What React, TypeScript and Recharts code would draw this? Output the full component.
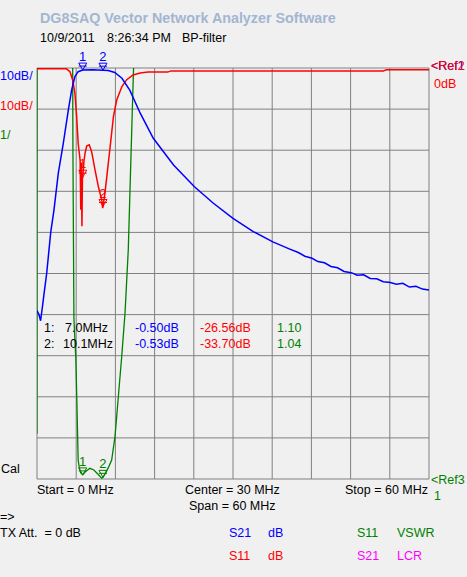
import React from 'react';
import { LineChart, Line, XAxis, YAxis, CartesianGrid, ReferenceDot } from 'recharts';

// grid ticks: 0..60 MHz in 6 MHz steps, 0..-100 dB in 10 dB steps
const freqTicks = [0, 6, 12, 18, 24, 30, 36, 42, 48, 54, 60];
const dbTicks = [0, -10, -20, -30, -40, -50, -60, -70, -80, -90, -100];

// S21 transmission (blue)
const s21Freq = [0, 0.3, 0.55, 0.8, 1.07, 1.48, 2.1, 2.6, 3.26, 4.03, 4.8, 5.3, 5.8, 6.3, 7.0, 8.5, 10.1, 10.9, 11.9, 13.0, 14.2, 15.8, 17.8, 20.9, 24.1, 27.0, 30.0, 33.1, 36.1, 38.6, 40, 41, 42.1, 43, 44, 45, 46, 47, 48.1, 49, 50, 51, 52, 53, 54.1, 55, 56, 57, 58, 59, 60];
const s21Db = [-59, -60, -61.5, -58.5, -55, -50, -40, -34.5, -25.6, -18.3, -10.2, -5.4, -2.1, -0.9, -0.5, -0.45, -0.53, -0.6, -1.1, -2.5, -5.4, -11, -17.1, -23.6, -28.9, -32.9, -36.6, -39.8, -42.3, -44, -44.9, -45.8, -46.3, -47.1, -47.4, -48.3, -48.6, -49.5, -49.8, -50.4, -50.3, -51.2, -51.3, -52.0, -52.2, -52.6, -52.4, -53.3, -53.1, -53.8, -54];

// S11 reflection (red)
const s11Freq = [0, 4.5, 5.05, 5.46, 5.8, 6.07, 6.3, 6.6, 6.7, 6.78, 6.88, 6.95, 7.0, 7.2, 7.35, 7.6, 8.0, 8.37, 8.88, 9.4, 9.9, 10.05, 10.1, 10.4, 10.8, 11.2, 11.7, 12.2, 13.0, 13.7, 14.7, 15.8, 17, 20, 20.5, 53, 53.5, 60];
const s11Db = [-0.2, -0.2, -0.9, -2.9, -6.1, -11.8, -18.3, -22.4, -34.5, -23, -38.5, -27, -26.56, -22.5, -20.8, -19, -18.7, -20.4, -24.8, -28.9, -32, -34.1, -33.7, -30.5, -24.8, -19.1, -11.8, -7.8, -4.5, -2.9, -1.7, -1.2, -1.0, -1.0, -0.7, -0.7, -0.45, -0.45];

// S11 VSWR (green)
const vswrFreq = [0, 0.05, 5.4, 5.45, 5.5, 5.65, 5.95, 6.1, 6.3, 6.5, 6.7, 7.0, 7.5, 8.1, 8.7, 9.3, 9.9, 10.1, 10.4, 10.9, 11.43, 11.94, 12.45, 12.96, 13.47, 13.97, 14.23, 14.74, 15.0, 15.5, 60];
const vswrVal = [2.1, 30, 30, 11.5, 9.0, 4.9, 3.9, 2.9, 1.46, 1.25, 1.15, 1.10, 1.19, 1.26, 1.22, 1.12, 1.02, 1.04, 1.12, 1.27, 1.46, 2.03, 3.0, 3.97, 5.03, 6.57, 8.0, 10.8, 12, 30, 30];

// markers
const markerFreq = [7.0, 10.1];
const markerS21 = [-0.5, -0.53];
const markerS11 = [-26.56, -33.7];
const markerVswr = [1.1, 1.04];

const s21Data = s21Freq.map((f, i) => ({ f, v: s21Db[i] }));
const s11Data = s11Freq.map((f, i) => ({ f, v: s11Db[i] }));
const vswrData = vswrFreq.map((f, i) => ({ f, v: vswrVal[i] }));

const FONT = '"Liberation Sans", Arial, sans-serif';

const T: React.FC<{ x: number; y: number; c?: string; s?: number; b?: boolean; children: React.ReactNode }> = ({ x, y, c = '#000', s = 12.5, b, children }) => (
  <div
    style={{
      position: 'absolute', left: x, top: y, transform: 'translateY(-50%)',
      color: c, fontSize: s, fontWeight: b ? 'bold' : 'normal', lineHeight: 1, whiteSpace: 'pre', fontFamily: FONT,
    }}
  >
    {children}
  </div>
);

const markerShape = (color: string, label: string) => (props: any) => {
  const { cx, cy } = props;
  return (
    <g>
      <path d={`M${cx - 4},${cy - 7} L${cx + 4},${cy - 7} L${cx},${cy} Z`} fill="none" stroke={color} strokeWidth={1} />
      <line x1={cx - 4} y1={cy - 4} x2={cx + 4} y2={cy - 4} stroke={color} strokeWidth={1} />
      <text x={cx} y={cy - 9} textAnchor="middle" fill={color} fontSize={13} fontFamily={FONT}>{label}</text>
    </g>
  );
};

export default function App() {
  return (
    <div style={{ position: 'absolute', left: 0, top: 0, width: 467, height: 577, background: '#f0f0f0', fontFamily: FONT, overflow: 'hidden' }}>
      <T x={40} y={18} c="#a3b6d0" s={14.3} b>DG8SAQ Vector Network Analyzer Software</T>
      <T x={40} y={38}>10/9/2011</T>
      <T x={107} y={38}>8:26:34 PM</T>
      <T x={182} y={38}>BP-filter</T>

      <div style={{ position: 'absolute', left: 0, top: 0 }}>
        <LineChart width={467} height={577} margin={{ top: 68, left: 37, right: 38, bottom: 98 }}>
          <XAxis type="number" dataKey="f" domain={[0, 60]} ticks={freqTicks} allowDataOverflow hide />
          <YAxis yAxisId="db" type="number" domain={[-100, 0]} ticks={dbTicks} allowDataOverflow hide />
          <YAxis yAxisId="vswr" type="number" domain={[1, 11]} allowDataOverflow hide />
          <CartesianGrid yAxisId="db" verticalValues={freqTicks} horizontalValues={dbTicks} stroke="#808080" strokeWidth={1} fill="none" />
          <Line yAxisId="vswr" data={vswrData} dataKey="v" stroke="#008000" strokeWidth={1.3} dot={false} isAnimationActive={false} type="linear" />
          <Line yAxisId="db" data={s11Data} dataKey="v" stroke="#ff0000" strokeWidth={1.5} dot={false} isAnimationActive={false} type="linear" />
          <Line yAxisId="db" data={s21Data} dataKey="v" stroke="#0000ff" strokeWidth={1.5} dot={false} isAnimationActive={false} type="linear" />
          {markerFreq.map((f, i) => (
            <ReferenceDot key={'b' + i} yAxisId="db" x={f} y={markerS21[i]} shape={markerShape('#0000ff', String(i + 1))} ifOverflow="visible" />
          ))}
          {markerFreq.map((f, i) => (
            <ReferenceDot key={'r' + i} yAxisId="db" x={f} y={markerS11[i]} shape={markerShape('#ff0000', String(i + 1))} ifOverflow="visible" />
          ))}
          {markerFreq.map((f, i) => (
            <ReferenceDot key={'g' + i} yAxisId="vswr" x={f} y={markerVswr[i]} shape={markerShape('#008000', String(i + 1))} ifOverflow="visible" />
          ))}
        </LineChart>
      </div>

      <T x={0} y={76} c="#0000ff">10dB/</T>
      <T x={0} y={106} c="#ff0000">10dB/</T>
      <T x={0} y={135} c="#008000">1/</T>
      <T x={1} y={469}>Cal</T>

      <T x={431} y={66} c="#0000ff">{'<Ref1'}</T>
      <T x={431} y={66} c="#ff0000">{'<Ref2'}</T>
      <T x={434} y={84} c="#ff0000">0dB</T>
      <T x={431} y={480} c="#008000">{'<Ref3'}</T>
      <T x={434} y={496} c="#008000">1</T>

      <T x={44} y={328}>1:</T>
      <T x={65} y={328}>7.0MHz</T>
      <T x={44} y={344}>2:</T>
      <T x={63} y={344}>10.1MHz</T>
      <T x={135} y={328} c="#0000ff">-0.50dB</T>
      <T x={135} y={344} c="#0000ff">-0.53dB</T>
      <T x={200} y={328} c="#ff0000">-26.56dB</T>
      <T x={200} y={344} c="#ff0000">-33.70dB</T>
      <T x={277} y={328} c="#008000">1.10</T>
      <T x={277} y={344} c="#008000">1.04</T>

      <T x={37} y={490}>Start = 0 MHz</T>
      <T x={185} y={490}>Center = 30 MHz</T>
      <T x={189} y={506}>Span = 60 MHz</T>
      <T x={345} y={490}>Stop = 60 MHz</T>

      <T x={0} y={517}>{'=>'}</T>
      <T x={0} y={533}>{'TX Att.  = 0 dB'}</T>
      <T x={229} y={533} c="#0000ff">S21</T>
      <T x={268} y={533} c="#0000ff">dB</T>
      <T x={357} y={533} c="#008000">S11</T>
      <T x={397} y={533} c="#008000">VSWR</T>
      <T x={229} y={556} c="#ff0000">S11</T>
      <T x={268} y={556} c="#ff0000">dB</T>
      <T x={357} y={556} c="#ff00ff">S21</T>
      <T x={397} y={556} c="#ff00ff">LCR</T>
    </div>
  );
}
